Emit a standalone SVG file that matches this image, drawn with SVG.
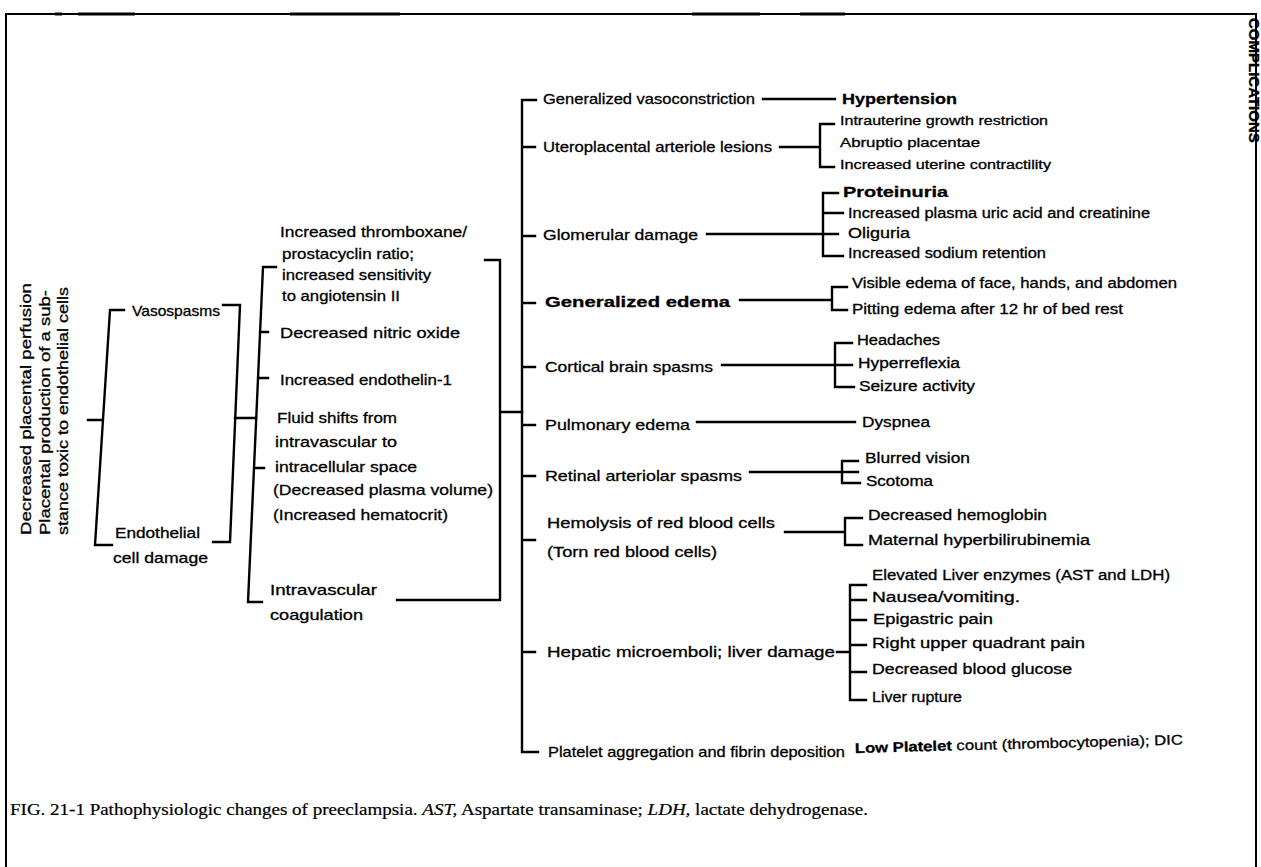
<svg xmlns="http://www.w3.org/2000/svg" width="1261" height="867" viewBox="0 0 1261 867">
<style>
.t{font-family:"Liberation Sans",Arial,sans-serif;font-size:15px;fill:#000;stroke:#000;stroke-width:0.3}
.s{font-size:14px}
.xs{font-size:13px}
.b{font-weight:bold}
.cap{font-family:"Liberation Serif","Times New Roman",serif;font-size:16px;fill:#000;stroke:#000;stroke-width:0.2}
.c{stroke:#000;stroke-width:2.4;fill:none;stroke-linecap:square}
.f{stroke:#000;stroke-width:2;fill:none}
</style>
<rect width="1261" height="867" fill="#fff"/>
<g id="frame">
<path class="f" d="M6,867 V14 H1256 V867"/>
<path stroke="#000" stroke-width="3" d="M55,14 H62 M78,14 H135 M290,14 H400 M692,14 H760 M800,14 H845"/>
<text class="t b" font-size="12" transform="translate(1249,18) rotate(90)">COMPLICATIONS</text>
</g>
<g id="connectors">
<path class="c" d="M124,310 H110 L95,545 H112 M88,420 H103"/>
<path class="c" d="M223,305 H240 L230,542 H213 M235,418 H256"/>
<path class="c" d="M276,267 H263 L248,602 H262 M260,332 H268 M258,378 H268 M254,468 H264"/>
<path class="c" d="M485,260 H500 V600 H397 M500,412 H522"/>
<path class="c" d="M536,100 H522 V752 H538 M522,147 H535 M522,236 H535 M522,303 H535 M522,367 H535 M522,425 H535 M522,476 H535 M522,540 H535 M522,652 H535"/>
<path class="c" d="M763,99 H835"/>
<path class="c" d="M780,147 H820 M834,124 H820 V167 H834"/>
<path class="c" d="M707,234 H838 M838,193 H823 V256 H843 M823,213 H843"/>
<path class="c" d="M740,300 H832 M847,287 H832 V310 H847"/>
<path class="c" d="M722,365 H852 M852,343 H835 V387 H854"/>
<path class="c" d="M697,422 H855"/>
<path class="c" d="M750,472 H858 M858,461 H842 V483 H860"/>
<path class="c" d="M785,532 H845 M862,518 H845 V545 H862"/>
<path class="c" d="M837,652 H850 M866,585 H850 V700 H866 M850,600 H866 M850,620 H866 M850,645 H866 M850,672 H866"/>
</g>
<g id="n-cause">
<text class="t" transform="translate(31,535) rotate(-90)" textLength="252" lengthAdjust="spacingAndGlyphs">Decreased placental perfusion</text>
<text class="t" transform="translate(50,535) rotate(-90)" textLength="245" lengthAdjust="spacingAndGlyphs">Placental production of a sub-</text>
<text class="t" transform="translate(68,535) rotate(-90)" textLength="248" lengthAdjust="spacingAndGlyphs">stance toxic to endothelial cells</text>
</g>
<g id="n-vasospasms"><text class="t" x="132" y="316" textLength="88" lengthAdjust="spacingAndGlyphs">Vasospasms</text></g>
<g id="n-endothelial">
<text class="t" x="115" y="538" textLength="85" lengthAdjust="spacingAndGlyphs">Endothelial</text>
<text class="t" x="113" y="563" textLength="95" lengthAdjust="spacingAndGlyphs">cell damage</text>
</g>
<g id="n-thromboxane">
<text class="t" x="280" y="237" textLength="187" lengthAdjust="spacingAndGlyphs">Increased thromboxane/</text>
<text class="t" x="282" y="259" textLength="132" lengthAdjust="spacingAndGlyphs">prostacyclin ratio;</text>
<text class="t" x="282" y="280" textLength="149" lengthAdjust="spacingAndGlyphs">increased sensitivity</text>
<text class="t" x="282" y="301" textLength="118" lengthAdjust="spacingAndGlyphs">to angiotensin II</text>
</g>
<g id="n-nitric"><text class="t" x="280" y="338" textLength="180" lengthAdjust="spacingAndGlyphs">Decreased nitric oxide</text></g>
<g id="n-endothelin"><text class="t" x="280" y="385" textLength="172" lengthAdjust="spacingAndGlyphs">Increased endothelin-1</text></g>
<g id="n-fluid">
<text class="t" x="277" y="423" textLength="120" lengthAdjust="spacingAndGlyphs">Fluid shifts from</text>
<text class="t" x="275" y="447" textLength="122" lengthAdjust="spacingAndGlyphs">intravascular to</text>
<text class="t" x="275" y="472" textLength="142" lengthAdjust="spacingAndGlyphs">intracellular space</text>
<text class="t" x="273" y="495" textLength="220" lengthAdjust="spacingAndGlyphs">(Decreased plasma volume)</text>
<text class="t" x="273" y="520" textLength="175" lengthAdjust="spacingAndGlyphs">(Increased hematocrit)</text>
</g>
<g id="n-coag">
<text class="t" x="270" y="595" textLength="107" lengthAdjust="spacingAndGlyphs">Intravascular</text>
<text class="t" x="270" y="620" textLength="93" lengthAdjust="spacingAndGlyphs">coagulation</text>
</g>
<g id="n-vasoconstriction"><text class="t" x="543" y="104" textLength="212" lengthAdjust="spacingAndGlyphs">Generalized vasoconstriction</text></g>
<g id="n-hypertension"><text class="t b" x="842" y="104" textLength="115" lengthAdjust="spacingAndGlyphs">Hypertension</text></g>
<g id="n-utero"><text class="t" x="543" y="152" textLength="229" lengthAdjust="spacingAndGlyphs">Uteroplacental arteriole lesions</text></g>
<g id="n-utero-items">
<text class="t xs" x="840" y="125" textLength="208" lengthAdjust="spacingAndGlyphs">Intrauterine growth restriction</text>
<text class="t xs" x="840" y="147" textLength="140" lengthAdjust="spacingAndGlyphs">Abruptio placentae</text>
<text class="t xs" x="840" y="169" textLength="211" lengthAdjust="spacingAndGlyphs">Increased uterine contractility</text>
</g>
<g id="n-glomerular"><text class="t" x="543" y="240" textLength="155" lengthAdjust="spacingAndGlyphs">Glomerular damage</text></g>
<g id="n-glom-items">
<text class="t b" x="843" y="197" textLength="105" lengthAdjust="spacingAndGlyphs">Proteinuria</text>
<text class="t s" x="848" y="218" textLength="302" lengthAdjust="spacingAndGlyphs">Increased plasma uric acid and creatinine</text>
<text class="t s" x="848" y="238" textLength="62" lengthAdjust="spacingAndGlyphs">Oliguria</text>
<text class="t s" x="848" y="258" textLength="198" lengthAdjust="spacingAndGlyphs">Increased sodium retention</text>
</g>
<g id="n-edema"><text class="t b" x="545" y="307" textLength="185" lengthAdjust="spacingAndGlyphs">Generalized edema</text></g>
<g id="n-edema-items">
<text class="t s" x="852" y="288" textLength="325" lengthAdjust="spacingAndGlyphs">Visible edema of face, hands, and abdomen</text>
<text class="t s" x="852" y="314" textLength="271" lengthAdjust="spacingAndGlyphs">Pitting edema after 12 hr of bed rest</text>
</g>
<g id="n-cortical"><text class="t" x="545" y="372" textLength="168" lengthAdjust="spacingAndGlyphs">Cortical brain spasms</text></g>
<g id="n-cortical-items">
<text class="t s" x="857" y="345" textLength="83" lengthAdjust="spacingAndGlyphs">Headaches</text>
<text class="t s" x="858" y="368" textLength="102" lengthAdjust="spacingAndGlyphs">Hyperreflexia</text>
<text class="t s" x="859" y="391" textLength="116" lengthAdjust="spacingAndGlyphs">Seizure activity</text>
</g>
<g id="n-pulmonary"><text class="t" x="545" y="430" textLength="145" lengthAdjust="spacingAndGlyphs">Pulmonary edema</text></g>
<g id="n-dyspnea"><text class="t s" x="862" y="427" textLength="68" lengthAdjust="spacingAndGlyphs">Dyspnea</text></g>
<g id="n-retinal"><text class="t" x="545" y="481" textLength="197" lengthAdjust="spacingAndGlyphs">Retinal arteriolar spasms</text></g>
<g id="n-retinal-items">
<text class="t s" x="865" y="463" textLength="105" lengthAdjust="spacingAndGlyphs">Blurred vision</text>
<text class="t s" x="866" y="486" textLength="67" lengthAdjust="spacingAndGlyphs">Scotoma</text>
</g>
<g id="n-hemolysis">
<text class="t" x="547" y="528" textLength="228" lengthAdjust="spacingAndGlyphs">Hemolysis of red blood cells</text>
<text class="t" x="547" y="557" textLength="170" lengthAdjust="spacingAndGlyphs">(Torn red blood cells)</text>
</g>
<g id="n-hemolysis-items">
<text class="t s" x="868" y="520" textLength="179" lengthAdjust="spacingAndGlyphs">Decreased hemoglobin</text>
<text class="t s" x="868" y="545" textLength="222" lengthAdjust="spacingAndGlyphs">Maternal hyperbilirubinemia</text>
</g>
<g id="n-hepatic"><text class="t" x="547" y="657" textLength="288" lengthAdjust="spacingAndGlyphs">Hepatic microemboli; liver damage</text></g>
<g id="n-hepatic-items">
<text class="t s" x="872" y="580" textLength="298" lengthAdjust="spacingAndGlyphs">Elevated Liver enzymes (AST and LDH)</text>
<text class="t s" x="872" y="602" textLength="148" lengthAdjust="spacingAndGlyphs">Nausea/vomiting.</text>
<text class="t s" x="873" y="624" textLength="120" lengthAdjust="spacingAndGlyphs">Epigastric pain</text>
<text class="t s" x="872" y="648" textLength="213" lengthAdjust="spacingAndGlyphs">Right upper quadrant pain</text>
<text class="t s" x="872" y="674" textLength="200" lengthAdjust="spacingAndGlyphs">Decreased blood glucose</text>
<text class="t s" x="872" y="702" textLength="90" lengthAdjust="spacingAndGlyphs">Liver rupture</text>
</g>
<g id="n-platelet"><text class="t" x="548" y="757" textLength="297" lengthAdjust="spacingAndGlyphs">Platelet aggregation and fibrin deposition</text></g>
<g id="n-lowplatelet"><text class="t s" x="855" y="753" transform="rotate(-1.5 855 753)" textLength="328" lengthAdjust="spacingAndGlyphs"><tspan class="b">Low Platelet</tspan> count (thrombocytopenia); DIC</text></g>
<g id="caption"><text class="cap" x="10" y="815" textLength="858" lengthAdjust="spacingAndGlyphs">FIG. 21-1  Pathophysiologic changes of preeclampsia. <tspan font-style="italic">AST,</tspan> Aspartate transaminase; <tspan font-style="italic">LDH,</tspan> lactate dehydrogenase.</text></g>
</svg>
